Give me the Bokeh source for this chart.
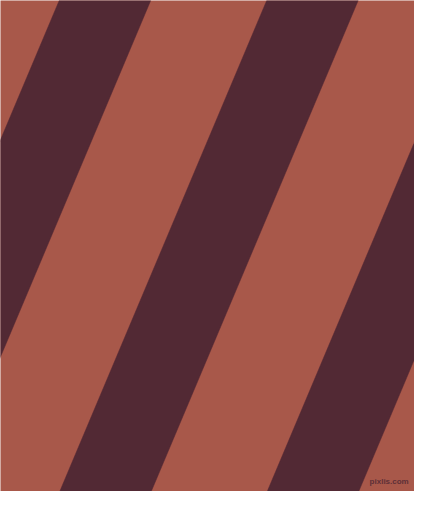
from bokeh.plotting import figure
from bokeh.models import Range1d, ColumnDataSource
from bokeh.embed import file_html
from bokeh.resources import INLINE
from bokeh.core.properties import value

# picture extent (reference pixels)
img_w = 430
img_h = 507

# dark stripes: left edge x at the top row, horizontal width, horizontal shift per pixel down
stripe_left_top = [-154.5, 61.0, 276.5, 492.0]
stripe_width = 95.0
stripe_shift = 0.424

light_color = "#A8584A"
dark_color = "#522934"

watermark = ["pixlis.com"]
watermark_x = [424]
watermark_y = [497]

xs, ys = [], []
for x0 in stripe_left_top:
    xb = x0 - stripe_shift * img_h
    xs.append([x0, x0 + stripe_width, xb + stripe_width, xb])
    ys.append([0, 0, img_h, img_h])

src = ColumnDataSource(dict(xs=xs, ys=ys))

p = figure(width=414, height=491, output_backend="svg", toolbar_location=None,
           x_range=Range1d(0, img_w), y_range=Range1d(img_h, 0),
           min_border=0, background_fill_color=light_color,
           border_fill_color=light_color, outline_line_color=None)
p.axis.visible = False
p.grid.visible = False

p.patches("xs", "ys", source=src, fill_color=dark_color, line_color=dark_color, line_width=0.5)

p.text(x=watermark_x, y=watermark_y, text=watermark, text_align="right",
       text_baseline="middle", text_font=value("Liberation Sans"), text_font_size="8px",
       text_color="#5e3038", text_font_style="bold")

open("out.html", "w").write(file_html(p, INLINE))
